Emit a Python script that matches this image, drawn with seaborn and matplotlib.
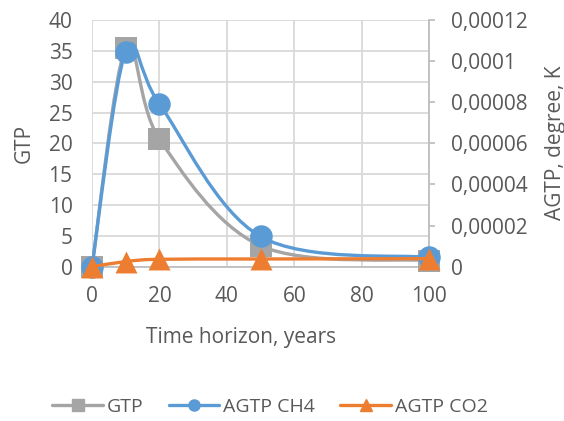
import numpy as np
import matplotlib
matplotlib.use("Agg")
import matplotlib.pyplot as plt
import seaborn as sns
from matplotlib.path import Path
from matplotlib.patches import PathPatch
from matplotlib.lines import Line2D
from matplotlib.ticker import FuncFormatter, MultipleLocator

# data
years = [0, 10, 20, 50, 100]
gtp = [0, 35.5, 20.7, 3.4, 1.0]
agtp_ch4 = [0, 1.046e-4, 7.92e-5, 1.47e-5, 4.5e-6]
agtp_co2 = [0, 2.5e-6, 3.6e-6, 3.75e-6, 3.9e-6]

series_names = ["GTP", "AGTP CH4", "AGTP CO2"]
colors = ["#a5a5a5", "#5b9bd5", "#ed7d31"]
markers = ["s", "o", "^"]
text_color = "#595959"
grid_color = "#d9d9d9"


def smooth_path(x, y):
    # Catmull-Rom style bezier through the points (like Excel "smoothed line")
    pts = np.column_stack([x, y]).astype(float)
    padded = np.vstack([pts[0], pts, pts[-1]])
    verts = [pts[0]]
    codes = [Path.MOVETO]
    for i in range(len(pts) - 1):
        p0, p1, p2, p3 = padded[i], padded[i + 1], padded[i + 2], padded[i + 3]
        c1 = p1 + (p2 - p0) / 6.0
        c2 = p2 - (p3 - p1) / 6.0
        verts += [c1, c2, p2]
        codes += [Path.CURVE4] * 3
    return Path(verts, codes)


sns.set_style("white")
plt.rcParams["font.family"] = ["Open Sans", "DejaVu Sans"]
plt.rcParams["text.color"] = text_color
plt.rcParams["axes.labelcolor"] = text_color

fig = plt.figure(figsize=(5.64, 4.21), dpi=100)
ax = fig.add_axes([0.163, 0.3665, 0.598, 0.586])
ax2 = ax.twinx()

fs = 15

ax.set_xlim(0, 100)
ax.set_ylim(0, 40)
ax2.set_ylim(0, 0.00012)
ax.xaxis.set_major_locator(MultipleLocator(20))
ax.yaxis.set_major_locator(MultipleLocator(5))
ax2.yaxis.set_major_locator(MultipleLocator(0.00002))

ax.grid(True, color=grid_color, linewidth=1.3)
ax.set_axisbelow(True)

for a in (ax, ax2):
    for s in a.spines.values():
        s.set_visible(False)
ax.spines["bottom"].set_visible(True)
ax.spines["bottom"].set_color("#bfbfbf")
ax.spines["bottom"].set_linewidth(1.3)
ax2.spines["right"].set_visible(True)
ax2.spines["right"].set_color("#bfbfbf")
ax2.spines["right"].set_linewidth(1.3)

ax.tick_params(axis="both", length=0, labelsize=fs, labelcolor=text_color)
ax.tick_params(axis="y", pad=14)
ax.tick_params(axis="x", pad=14)
ax2.tick_params(axis="y", length=4, width=1.3, color="#bfbfbf", direction="out",
                labelsize=fs, labelcolor=text_color, pad=12)


def comma_fmt(v, pos):
    s = f"{v:.5f}".rstrip("0").rstrip(".")
    return s.replace(".", ",")


ax2.yaxis.set_major_formatter(FuncFormatter(comma_fmt))

# smoothed lines
lw = 2.4
ax.add_patch(PathPatch(smooth_path(years, gtp), fill=False, edgecolor=colors[0],
                       linewidth=lw, zorder=2))
ax2.add_patch(PathPatch(smooth_path(years, agtp_ch4), fill=False, edgecolor=colors[1],
                        linewidth=lw, zorder=2))
ax2.add_patch(PathPatch(smooth_path(years, agtp_co2), fill=False, edgecolor=colors[2],
                        linewidth=lw, zorder=4))

# markers
msize = 250
sns.scatterplot(x=years, y=gtp, ax=ax, marker=markers[0], color=colors[0],
                s=msize, edgecolor=colors[0], linewidth=0, zorder=3, clip_on=False)
sns.scatterplot(x=years, y=agtp_ch4, ax=ax2, marker=markers[1], color=colors[1],
                s=msize * 1.05, edgecolor=colors[1], linewidth=0, zorder=3, clip_on=False)
sns.scatterplot(x=years, y=agtp_co2, ax=ax2, marker=markers[2], color=colors[2],
                s=msize, edgecolor=colors[2], linewidth=0, zorder=5, clip_on=False)

ax.set_xlim(0, 100)
ax.set_ylim(0, 40)
ax2.set_ylim(0, 0.00012)

fig.text(241 / 564, 1 - 337 / 421, "Time horizon, years", fontsize=fs,
         ha="center", va="center", color=text_color)
fig.text(24 / 564, 1 - 143 / 421, "GTP", fontsize=fs, rotation=90,
         ha="center", va="center", color=text_color)
fig.text(555 / 564, 1 - 143 / 421, "AGTP, degree, K", fontsize=fs, rotation=90,
         ha="center", va="center", color=text_color)

handles = [Line2D([0], [0], color=c, marker=m, markersize=8, linewidth=lw)
           for c, m in zip(colors, markers)]
fig.legend(handles, series_names, loc="center", bbox_to_anchor=(0.479, 1 - 407 / 421),
           ncol=3, frameon=False, fontsize=14, handlelength=2.6,
           handletextpad=0.2, columnspacing=1.3)

fig.savefig("out.png", dpi=100)
